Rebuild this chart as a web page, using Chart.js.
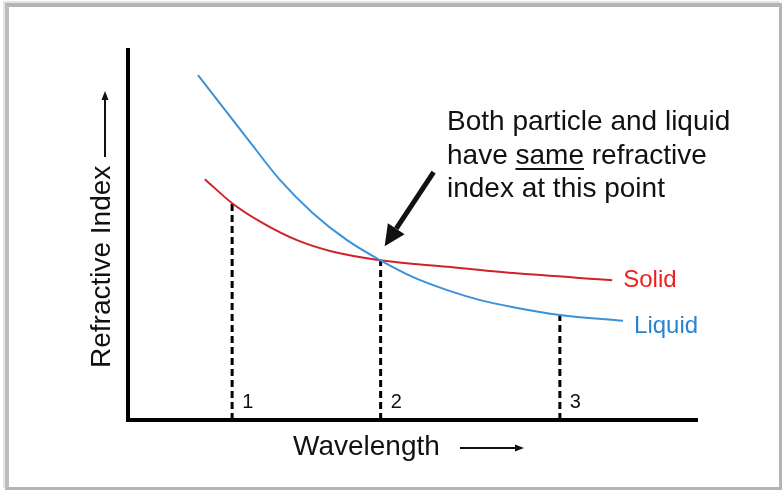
<!DOCTYPE html>
<html>
<head>
<meta charset="utf-8">
<script src="https://cdn.jsdelivr.net/npm/chart.js@4"></script>
<style>
  body { margin: 0; background: #fff; }
  #frame {
    position: absolute; left: 5px; top: 3px; width: 777px; height: 487px;
    box-sizing: border-box;
    border-top: 4px solid #b4b4b4; border-left: 4px solid #bdbdbd;
    border-right: 3px solid #b4b4b4; border-bottom: 3px solid #b4b4b4;
    box-shadow: -2px -2px 0 #e4e4e4;
  }
  #wrap { position: absolute; left: 0; top: 0; width: 782px; height: 491px; }
</style>
</head>
<body>
<div id="frame"></div>
<div id="wrap"><canvas id="chart" width="782" height="491"></canvas></div>
<script>
// ---------------- data (arbitrary units, x = wavelength, y = refractive index) ----------------
const liquidX = [12.3, 20.9, 26.7, 32.5, 38.5, 44.3, 50.1, 56.1, 61.9, 67.7, 75.9, 87.0];
const liquidY = [93.2, 76.2, 64.9, 55.9, 48.6, 43.2, 38.6, 35.1, 32.4, 30.5, 28.4, 26.8];

const solidX = [13.5, 18.3, 23.7, 29.7, 35.5, 44.3, 56.1, 67.7, 85.1];
const solidY = [65.1, 58.6, 53.2, 48.6, 45.7, 43.2, 41.4, 39.7, 37.8];

// vertical dashed drop lines
const dropX      = [18.3, 44.4, 75.9];
const dropTop    = [58.6, 43.2, 28.4];
const dropLabels = ["1", "2", "3"];

const seriesLabels = ["Liquid", "Solid"];

const FONT = '"Liberation Sans", Arial, sans-serif';

function toPoints(xs, ys) {
    return xs.map((x, i) => ({ x: x, y: ys[i] }));
}

const datasets = [
    {
        label: seriesLabels[0],
        data: toPoints(liquidX, liquidY),
        borderColor: "#3a92da",
        borderWidth: 2,
        pointRadius: 0,
        cubicInterpolationMode: "monotone"
    },
    {
        label: seriesLabels[1],
        data: toPoints(solidX, solidY),
        borderColor: "#d0222a",
        borderWidth: 2,
        pointRadius: 0,
        cubicInterpolationMode: "monotone"
    }
];

dropX.forEach((x, i) => {
    datasets.push({
        label: "drop " + dropLabels[i],
        data: [{ x: x, y: 0 }, { x: x, y: dropTop[i] }],
        borderColor: "#000",
        borderWidth: 3,
        borderDash: [7, 4],
        pointRadius: 0
    });
});

// ---------------- annotations ----------------
function arrow(ctx, x1, y1, x2, y2, width, headLen, headHalf) {
    const dx = x2 - x1, dy = y2 - y1;
    const len = Math.hypot(dx, dy);
    const ux = dx / len, uy = dy / len;
    const bx = x2 - ux * headLen, by = y2 - uy * headLen;
    ctx.beginPath();
    ctx.lineWidth = width;
    ctx.moveTo(x1, y1);
    ctx.lineTo(bx, by);
    ctx.stroke();
    ctx.beginPath();
    ctx.moveTo(x2, y2);
    ctx.lineTo(bx - uy * headHalf, by + ux * headHalf);
    ctx.lineTo(bx + uy * headHalf, by - ux * headHalf);
    ctx.closePath();
    ctx.fill();
}

const annotations = {
    id: "annotations",
    afterDraw(chart) {
        const ctx = chart.ctx;
        const xs = chart.scales.x, ys = chart.scales.y;
        ctx.save();
        ctx.fillStyle = "#111";
        ctx.strokeStyle = "#111";
        ctx.textBaseline = "alphabetic";
        ctx.textAlign = "left";

        // axis titles
        ctx.font = "28px " + FONT;
        ctx.fillText("Wavelength", 293, 455);
        arrow(ctx, 460, 448, 524, 448, 2, 9, 3.5);

        ctx.save();
        ctx.translate(110, 368);
        ctx.rotate(-Math.PI / 2);
        ctx.fillText("Refractive Index", 0, 0);
        ctx.restore();
        arrow(ctx, 105, 157, 105, 91, 2, 9, 3.5);

        // drop line labels
        ctx.font = "20px " + FONT;
        dropX.forEach((x, i) => {
            ctx.fillText(dropLabels[i], xs.getPixelForValue(x) + 10, 408);
        });

        // series labels at line ends
        ctx.font = "24px " + FONT;
        ctx.fillStyle = "#2a83d0";
        ctx.fillText(seriesLabels[0],
            xs.getPixelForValue(liquidX[liquidX.length - 1]) + 11,
            ys.getPixelForValue(liquidY[liquidY.length - 1]) + 12);
        ctx.fillStyle = "#f01e1e";
        ctx.fillText(seriesLabels[1],
            xs.getPixelForValue(solidX[solidX.length - 1]) + 11,
            ys.getPixelForValue(solidY[solidY.length - 1]) + 7);

        // note
        ctx.fillStyle = "#111";
        ctx.font = "28px " + FONT;
        ctx.fillText("Both particle and liquid", 447, 130);
        ctx.fillText("have same refractive", 447, 164);
        ctx.fillText("index at this point", 447, 197);
        const uStart = 447 + ctx.measureText("have ").width;
        const uEnd = uStart + ctx.measureText("same").width;
        ctx.fillRect(uStart, 168, uEnd - uStart, 2);

        // arrow to crossing point
        const cx = xs.getPixelForValue(dropX[1]);
        const cy = ys.getPixelForValue(dropTop[1]);
        arrow(ctx, cx + 53, cy - 88, cx + 4, cy - 14, 5, 21, 10);

        ctx.restore();
    }
};

new Chart(document.getElementById("chart"), {
    type: "line",
    data: { datasets: datasets },
    options: {
        responsive: false,
        animation: false,
        layout: { padding: { left: 128, top: 50, right: 85, bottom: 71 } },
        plugins: { legend: { display: false }, tooltip: { enabled: false } },
        scales: {
            x: {
                type: "linear", min: 0, max: 100,
                grid: { display: false, drawTicks: false },
                ticks: { display: false },
                border: { display: true, color: "#000", width: 4 }
            },
            y: {
                type: "linear", min: 0, max: 100,
                grid: { display: false, drawTicks: false },
                ticks: { display: false },
                border: { display: true, color: "#000", width: 4 }
            }
        }
    },
    plugins: [annotations]
});
</script>
</body>
</html>
